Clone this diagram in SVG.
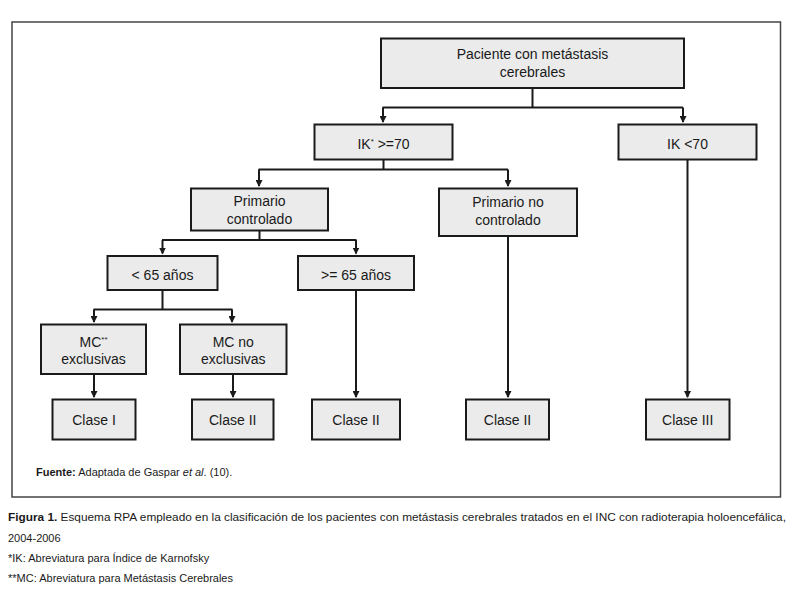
<svg xmlns="http://www.w3.org/2000/svg" width="806" height="589" viewBox="0 0 806 589">
<defs>
<style>
.box{fill:#ebebeb;stroke:#1a1a1a;stroke-width:2}
.t{font-family:"Liberation Sans",Arial,sans-serif;font-size:14px;fill:#1a1a1a;text-anchor:middle}
.c{fill:none;stroke:#1a1a1a;stroke-width:2}
.a{fill:none;stroke:#1a1a1a;stroke-width:2;marker-end:url(#arr)}
.cap{font-family:"Liberation Sans",Arial,sans-serif;font-size:11px;fill:#1a1a1a}
.sup{font-size:8px}
</style>
<marker id="arr" markerUnits="userSpaceOnUse" markerWidth="7" markerHeight="7" refX="6" refY="3.5" orient="auto">
<path d="M0,0 L7,3.5 L0,7 z" fill="#1a1a1a"/>
</marker>
</defs>
<rect x="0" y="0" width="806" height="589" fill="#ffffff"/>
<rect id="frame" x="12" y="22" width="768.5" height="475" fill="none" stroke="#444" stroke-width="1.5"/>

<g id="connectors">
<path class="c" d="M532.5,88 V107.5 M382.5,107.5 H683"/>
<path class="a" d="M383,107.5 V122"/>
<path class="a" d="M683,107.5 V122"/>
<path class="c" d="M383.5,159.5 V169.5 M258.5,169.5 H508"/>
<path class="a" d="M259,169.5 V186"/>
<path class="a" d="M508,169.5 V186"/>
<path class="a" d="M687.5,159.5 V397"/>
<path class="c" d="M259.5,231 V240 M162,240 H356.5"/>
<path class="a" d="M162.5,240 V253.5"/>
<path class="a" d="M356,240 V253.5"/>
<path class="a" d="M508,236 V397"/>
<path class="c" d="M162.5,290 V309.5 M93.5,309.5 H232.5"/>
<path class="a" d="M94,309.5 V322"/>
<path class="a" d="M232,309.5 V322"/>
<path class="a" d="M356,290 V397"/>
<path class="a" d="M94,374 V397"/>
<path class="a" d="M233,374 V397"/>
</g>

<g id="n-paciente"><rect class="box" x="381" y="38.5" width="303" height="49.5"/><text class="t" x="532.5" y="59">Paciente con metástasis</text><text class="t" x="532.5" y="77">cerebrales</text></g>
<g id="n-ik70"><rect class="box" x="314.5" y="124.5" width="138" height="35"/><text class="t" x="383.5" y="148.5">IK<tspan class="sup" dy="-5">*</tspan><tspan dy="5"> &gt;=70</tspan></text></g>
<g id="n-ikl70"><rect class="box" x="618.5" y="124.5" width="138" height="35"/><text class="t" x="687.5" y="148.5">IK &lt;70</text></g>
<g id="n-primctrl"><rect class="box" x="191" y="188.5" width="137" height="42"/><text class="t" x="259.5" y="206">Primario</text><text class="t" x="259.5" y="224">controlado</text></g>
<g id="n-primno"><rect class="box" x="439" y="188.5" width="138" height="47.5"/><text class="t" x="508" y="207">Primario no</text><text class="t" x="508" y="225">controlado</text></g>
<g id="n-menor65"><rect class="box" x="107.5" y="256" width="110" height="34"/><text class="t" x="162.5" y="280">&lt; 65 años</text></g>
<g id="n-mayor65"><rect class="box" x="298" y="256" width="116" height="34"/><text class="t" x="356" y="280">&gt;= 65 años</text></g>
<g id="n-mcexcl"><rect class="box" x="41" y="324.5" width="105" height="49.5"/><text class="t" x="93.5" y="346.5">MC<tspan class="sup" dy="-5">**</tspan></text><text class="t" x="93.5" y="364">exclusivas</text></g>
<g id="n-mcno"><rect class="box" x="180" y="324.5" width="106.5" height="49.5"/><text class="t" x="233.3" y="346.5">MC no</text><text class="t" x="233.3" y="364">exclusivas</text></g>
<g id="n-clase1"><rect class="box" x="52.5" y="399.5" width="83" height="40"/><text class="t" x="94" y="425">Clase I</text></g>
<g id="n-clase2a"><rect class="box" x="192" y="399.5" width="81.5" height="40"/><text class="t" x="232.7" y="425">Clase II</text></g>
<g id="n-clase2b"><rect class="box" x="312" y="399.5" width="88" height="40"/><text class="t" x="356" y="425">Clase II</text></g>
<g id="n-clase2c"><rect class="box" x="466" y="399.5" width="83" height="40"/><text class="t" x="507.5" y="425">Clase II</text></g>
<g id="n-clase3"><rect class="box" x="646" y="399.5" width="83.5" height="40"/><text class="t" x="687.7" y="425">Clase III</text></g>

<g id="captions">
<text class="cap" x="36" y="476" font-size="10"><tspan font-weight="bold">Fuente:</tspan> Adaptada de Gaspar <tspan font-style="italic">et al</tspan>. (10).</text>
<text class="cap" x="8" y="521" textLength="778" lengthAdjust="spacingAndGlyphs"><tspan font-weight="bold">Figura 1.</tspan> Esquema RPA empleado en la clasificación de los pacientes con metástasis cerebrales tratados en el INC con radioterapia holoencefálica,</text>
<text class="cap" x="8" y="542">2004-2006</text>
<text class="cap" x="8" y="562">*IK: Abreviatura para Índice de Karnofsky</text>
<text class="cap" x="8" y="582">**MC: Abreviatura para Metástasis Cerebrales</text>
</g>
</svg>
